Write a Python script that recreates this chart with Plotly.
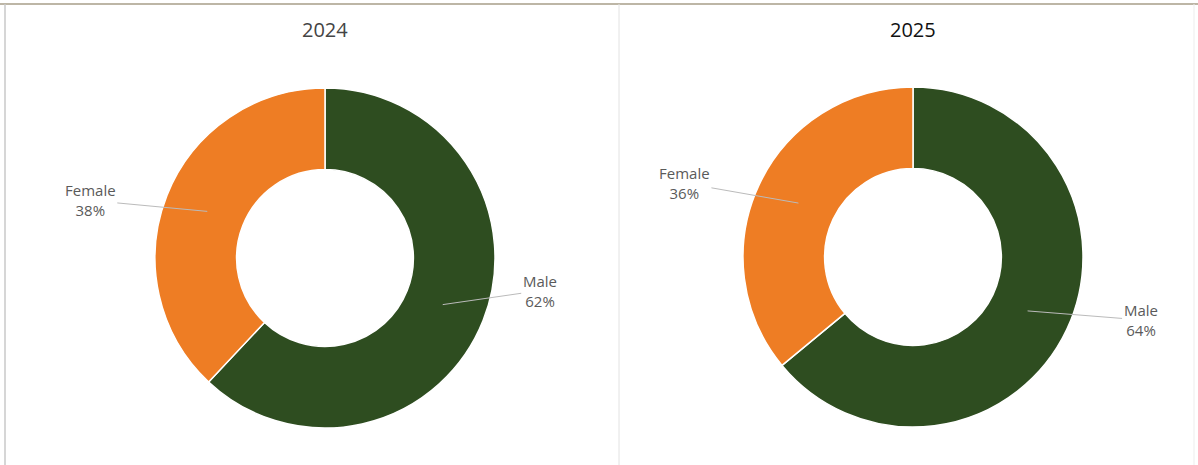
import math
import plotly.graph_objects as go

years = ["2024", "2025"]
labels = ["Male", "Female"]
values_2024 = [62, 38]
values_2025 = [64, 36]
colors = ["#2E4D20", "#EE7D24"]

W, H = 1198, 465
# pie geometry in pixels (center x, center y from top, radius)
pies = [
    {"year": "2024", "vals": values_2024, "cx": 325, "cy": 258, "r": 170,
     "offsets": {"Male": (97, -14), "Female": (-117, -11)}, "tcolor": "#444444"},
    {"year": "2025", "vals": values_2025, "cx": 913, "cy": 257, "r": 170,
     "offsets": {"Male": (113, 9), "Female": (-114, -20)}, "tcolor": "#111111"},
]
hole = 0.52

fig = go.Figure()
annotations = []
for p in pies:
    x0 = (p["cx"] - p["r"]) / W
    x1 = (p["cx"] + p["r"]) / W
    y0 = 1 - (p["cy"] + p["r"]) / H
    y1 = 1 - (p["cy"] - p["r"]) / H
    fig.add_trace(go.Pie(
        labels=labels, values=p["vals"], hole=hole, sort=False,
        direction="clockwise", rotation=0,
        marker=dict(colors=colors, line=dict(color="#FFFFFF", width=1.5)),
        textinfo="none", hoverinfo="label+percent", showlegend=False,
        domain=dict(x=[x0, x1], y=[y0, y1]),
    ))
    annotations.append(dict(
        text=p["year"], x=p["cx"] / W, y=1 - 30 / H, xref="paper", yref="paper",
        xanchor="center", yanchor="middle",
        showarrow=False, font=dict(size=20, color=p["tcolor"], family="Open Sans"),
    ))
    total = sum(p["vals"])
    start = 0.0
    rmid = p["r"] * (1 + hole) / 2
    for lab, v in zip(labels, p["vals"]):
        frac = v / total
        mid = (start + frac / 2) * 2 * math.pi
        start += frac
        hx = p["cx"] + math.sin(mid) * rmid * 0.98
        hy = p["cy"] - math.cos(mid) * rmid * 0.98
        ox, oy = p["offsets"][lab]
        annotations.append(dict(
            text=f"{lab}<br>{v}%", x=hx / W, y=1 - hy / H, xref="paper", yref="paper",
            ax=ox, ay=oy, showarrow=True, arrowhead=0, arrowwidth=1,
            arrowcolor="#BBBBBB", standoff=0, startstandoff=0,
            font=dict(size=15, color="#5A5A5A", family="Open Sans"),
            align="center",
        ))

shapes = [
    dict(type="line", xref="paper", yref="paper", x0=0, x1=1, y0=1 - 4 / H, y1=1 - 4 / H,
         line=dict(color="#BDB6A6", width=2)),
    dict(type="line", xref="paper", yref="paper", x0=5 / W, x1=5 / W, y0=0, y1=1 - 4 / H,
         line=dict(color="#C8C8C8", width=1.5)),
    dict(type="line", xref="paper", yref="paper", x0=619 / W, x1=619 / W, y0=0, y1=1 - 4 / H,
         line=dict(color="#E2E2E2", width=1)),
    dict(type="line", xref="paper", yref="paper", x0=1194 / W, x1=1194 / W, y0=0, y1=1 - 4 / H,
         line=dict(color="#EDEDED", width=1)),
]

fig.update_layout(
    width=W, height=H, margin=dict(l=0, r=0, t=0, b=0),
    paper_bgcolor="#FFFFFF", plot_bgcolor="#FFFFFF",
    annotations=annotations, shapes=shapes,
)
fig.write_html(
    "out.html",
    config={"displayModeBar": False},
    post_script="document.body.style.margin='0';document.body.style.overflow='hidden';",
)
